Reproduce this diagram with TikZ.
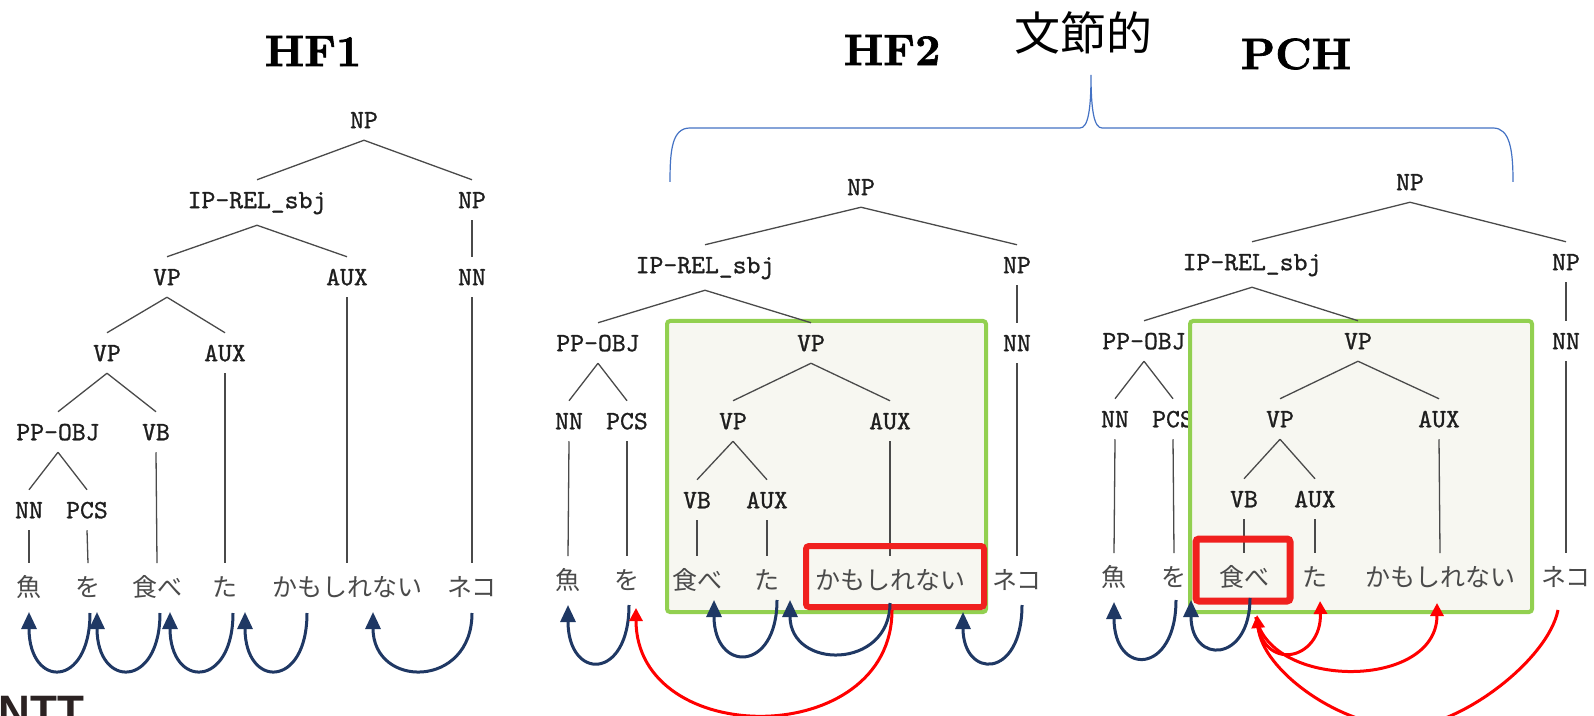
\documentclass[tikz,border=0pt]{standalone}
\usepackage{fontspec}
\newfontfamily\cjk{Noto Sans CJK JP}
\newfontfamily\logofont{Liberation Sans}
\newfontfamily\treefont{lmmono10-regular.otf}[FakeBold=1]
\newfontfamily\titlefont{lmroman10-bold.otf}[FakeBold=1.5]
\usetikzlibrary{arrows.meta}
\definecolor{darkarc}{HTML}{1F3864}
\definecolor{redarc}{HTML}{FF0000}
\definecolor{boxgreen}{HTML}{92D050}
\definecolor{boxfill}{HTML}{F7F7F1}
\definecolor{boxred}{HTML}{F0201E}
\definecolor{bracecol}{HTML}{4472C4}
\definecolor{treeline}{HTML}{4A4A4A}
\definecolor{treetext}{HTML}{1E1E1E}
\definecolor{wordtext}{HTML}{4A4A4A}
\definecolor{logocol}{HTML}{2B2222}
\tikzset{
  tn/.style={font=\treefont\fontsize{13.2}{14}\selectfont, text=treetext,
    anchor=base, yshift=-4.125pt, inner xsep=1pt, inner ysep=5.8pt,
    text height=8.25pt, text depth=0pt},
  tnd/.style={tn, text depth=2.5pt},
  wd/.style={font=\cjk\fontsize{12.5}{13}\selectfont, text=wordtext,
    anchor=base, yshift=-4.75pt, inner xsep=1pt, inner ysep=7pt,
    text height=9.5pt, text depth=0pt},
  tl/.style={draw=treeline, line width=0.65pt},
  titlet/.style={font=\titlefont\fontsize{22}{22}\selectfont, text=black, inner sep=0pt},
  greenbox/.style={draw=boxgreen, fill=boxfill, line width=2pt, rounded corners=1.5pt},
  redbox/.style={draw=boxred, line width=3pt, rounded corners=1.5pt},
  darc/.style={draw=darkarc, line width=1.5pt, -{Triangle[length=8.5pt,width=7.5pt]}},
  rarc/.style={draw=redarc, line width=1.5pt, -{Triangle[length=6.5pt,width=6.5pt]}},
  rline/.style={draw=redarc, line width=1.5pt},
}
\begin{document}
\begin{tikzpicture}[x=0.5pt,y=-0.5pt]
\useasboundingbox (0,0) rectangle (1594,716);
\fill[white] (0,0) rectangle (1594,716);

% ---------- titles ----------
\node[titlet] (t1) at (313,51) {HF1};
\node[titlet] (t2) at (892,50) {HF2};
\node[titlet] (t3) at (1296,54) {PCH};
\node[font=\cjk\fontsize{23}{24}\selectfont, inner sep=0pt] (bunsetsu) at (1083,33) {文節的};
\draw[bracecol, line width=0.6pt] (670,182) .. controls (670,150) and (672,128) .. (690,128)
  -- (1080,128) .. controls (1088,128) and (1091,110) .. (1091,75)
  .. controls (1091,110) and (1094,128) .. (1102,128) -- (1493,128)
  .. controls (1510,128) and (1513,150) .. (1513,182);

% ---------- logo (cut off at the lower edge) ----------
\node[anchor=base west, inner sep=0pt, text=logocol,
  font=\logofont\bfseries\fontsize{22}{22}\selectfont] (logo) at (-2,726) {NTT};

% ================= HF1 =================
\node[tn]  (np1)   at (364,120) {NP};
\node[tnd] (ip1)   at (257,200) {IP-REL\_sbj};
\node[tn]  (npr1)  at (472,200) {NP};
\node[tn]  (vp1)   at (167,277) {VP};
\node[tn]  (aux1)  at (347,277) {AUX};
\node[tn]  (nnr1)  at (472,277) {NN};
\node[tn]  (vpb1)  at (107,353) {VP};
\node[tn]  (auxb1) at (225,353) {AUX};
\node[tn]  (pp1)   at (58,432)  {PP-OBJ};
\node[tn]  (vb1)   at (156,432) {VB};
\node[tn]  (nn1)   at (29,510)  {NN};
\node[tn]  (pcs1)  at (87,510)  {PCS};
\node[wd] (w11) at (29,587)  {魚};
\node[wd] (w12) at (88,587)  {を};
\node[wd] (w13) at (157,587) {食べ};
\node[wd] (w14) at (225,587) {た};
\node[wd] (w15) at (347,587) {かもしれない};
\node[wd] (w16) at (472,587) {ネコ};
\draw[tl] (np1.south) -- (ip1.north);
\draw[tl] (np1.south) -- (npr1.north);
\draw[tl] (ip1.south) -- (vp1.north);
\draw[tl] (ip1.south) -- (aux1.north);
\draw[tl] (npr1.south) -- (nnr1.north);
\draw[tl] (vp1.south) -- (vpb1.north);
\draw[tl] (vp1.south) -- (auxb1.north);
\draw[tl] (vpb1.south) -- (pp1.north);
\draw[tl] (vpb1.south) -- (vb1.north);
\draw[tl] (pp1.south) -- (nn1.north);
\draw[tl] (pp1.south) -- (pcs1.north);
\draw[tl] (nn1.south) -- (w11.north);
\draw[tl] (pcs1.south) -- (w12.north);
\draw[tl] (vb1.south) -- (w13.north);
\draw[tl] (auxb1.south) -- (w14.north);
\draw[tl] (aux1.south) -- (w15.north);
\draw[tl] (nnr1.south) -- (w16.north);
% arcs HF1
\coordinate (a1s) at (90,613);  \coordinate (a1t) at (29,612);
\coordinate (b1s) at (160,613); \coordinate (b1t) at (97,612);
\coordinate (c1s) at (233,613); \coordinate (c1t) at (170,612);
\coordinate (d1s) at (307,613); \coordinate (d1t) at (245,612);
\coordinate (e1s) at (472,613); \coordinate (e1t) at (373,612);
\draw[darc] (a1s) .. controls +(0,76) and +(0,77) .. (a1t);
\draw[darc] (b1s) .. controls +(0,76) and +(0,77) .. (b1t);
\draw[darc] (c1s) .. controls +(0,76) and +(0,77) .. (c1t);
\draw[darc] (d1s) .. controls +(0,76) and +(0,77) .. (d1t);
\draw[darc] (e1s) .. controls +(0,76) and +(0,77) .. (e1t);

% ================= HF2 =================
\node[tn]  (np2)   at (861,187)  {NP};
\node[tnd] (ip2)   at (705,265)  {IP-REL\_sbj};
\node[tn]  (npr2)  at (1017,265) {NP};
\node[tn]  (pp2)   at (598,343)  {PP-OBJ};
\node[tn]  (nnr2)  at (1017,343) {NN};
\node[tn]  (nn2)   at (569,421)  {NN};
\node[tn]  (pcs2)  at (627,421)  {PCS};
\node[wd] (w21) at (568,580)  {魚};
\node[wd] (w22) at (627,580)  {を};
\node[wd] (w26) at (1017,580) {ネコ};
\draw[tl] (np2.south) -- (ip2.north);
\draw[tl] (np2.south) -- (npr2.north);
\draw[tl] (npr2.south) -- (nnr2.north);
\draw[tl] (ip2.south) -- (pp2.north);
\draw[tl] (pp2.south) -- (nn2.north);
\draw[tl] (pp2.south) -- (pcs2.north);
\draw[tl] (nn2.south) -- (w21.north);
\draw[tl] (pcs2.south) -- (w22.north);
\draw[tl] (nnr2.south) -- (w26.north);
\draw[greenbox] (667,321) rectangle (986,612);
\node[tn]  (vp2)   at (811,343)  {VP};
\node[tn]  (vpb2)  at (733,421)  {VP};
\node[tn]  (aux2)  at (890,421)  {AUX};
\node[tn]  (vb2)   at (697,500)  {VB};
\node[tn]  (auxb2) at (767,500)  {AUX};
\node[wd] (w23) at (697,580)  {食べ};
\node[wd] (w24) at (767,580)  {た};
\node[wd] (w25) at (890,580)  {かもしれない};
\draw[tl] (ip2.south) -- (vp2.north);
\draw[tl] (vp2.south) -- (vpb2.north);
\draw[tl] (vp2.south) -- (aux2.north);
\draw[tl] (vpb2.south) -- (vb2.north);
\draw[tl] (vpb2.south) -- (auxb2.north);
\draw[tl] (vb2.south) -- (w23.north);
\draw[tl] (auxb2.south) -- (w24.north);
\draw[tl] (aux2.south) -- (w25.north);
\draw[redbox] (806,546) rectangle (984,607);
% arcs HF2
\coordinate (a2s) at (629,605);  \coordinate (a2t) at (568,605);
\coordinate (b2s) at (777,600);  \coordinate (b2t) at (714,600);
\coordinate (c2s) at (890,603);  \coordinate (c2t) at (790,600);
\coordinate (d2s) at (1022,605); \coordinate (d2t) at (963,612);
\coordinate (r2s) at (892,610);  \coordinate (r2t) at (636,608);
\draw[darc] (a2s) .. controls +(0,76) and +(0,76) .. (a2t);
\draw[darc] (b2s) .. controls +(0,73) and +(0,73) .. (b2t);
\draw[darc] (c2s) .. controls +(0,67) and +(0,70) .. (c2t);
\draw[darc] (d2s) .. controls +(0,75) and +(0,67) .. (d2t);
\draw[rarc] (r2s) .. controls +(0,140) and +(0,142) .. (r2t);

% ================= PCH =================
\node[tn]  (np3)   at (1410,182) {NP};
\node[tnd] (ip3)   at (1252,262) {IP-REL\_sbj};
\node[tn]  (npr3)  at (1566,262) {NP};
\node[tn]  (pp3)   at (1144,341) {PP-OBJ};
\node[tn]  (nnr3)  at (1566,341) {NN};
\node[tn]  (nn3)   at (1115,419) {NN};
\node[tn]  (pcs3)  at (1173,419) {PCS};
\node[wd] (w31) at (1114,577) {魚};
\node[wd] (w32) at (1174,577) {を};
\node[wd] (w36) at (1566,577) {ネコ};
\draw[tl] (np3.south) -- (ip3.north);
\draw[tl] (np3.south) -- (npr3.north);
\draw[tl] (npr3.south) -- (nnr3.north);
\draw[tl] (ip3.south) -- (pp3.north);
\draw[tl] (pp3.south) -- (nn3.north);
\draw[tl] (pp3.south) -- (pcs3.north);
\draw[tl] (nn3.south) -- (w31.north);
\draw[tl] (pcs3.south) -- (w32.north);
\draw[tl] (nnr3.south) -- (w36.north);
\draw[greenbox] (1190,321) rectangle (1532,612);
\node[tn]  (vp3)   at (1358,341) {VP};
\node[tn]  (vpb3)  at (1280,419) {VP};
\node[tn]  (aux3)  at (1439,419) {AUX};
\node[tn]  (vb3)   at (1244,499) {VB};
\node[tn]  (auxb3) at (1315,499) {AUX};
\node[wd] (w33) at (1244,577) {食べ};
\node[wd] (w34) at (1315,577) {た};
\node[wd] (w35) at (1440,577) {かもしれない};
\draw[tl] (ip3.south) -- (vp3.north);
\draw[tl] (vp3.south) -- (vpb3.north);
\draw[tl] (vp3.south) -- (aux3.north);
\draw[tl] (vpb3.south) -- (vb3.north);
\draw[tl] (vpb3.south) -- (auxb3.north);
\draw[tl] (vb3.south) -- (w33.north);
\draw[tl] (auxb3.south) -- (w34.north);
\draw[tl] (aux3.south) -- (w35.north);
\draw[redbox, line width=3.5pt] (1196,539) rectangle (1290,601);
% arcs PCH
\coordinate (a3s) at (1176,600); \coordinate (a3t) at (1114,602);
\coordinate (b3s) at (1250,598); \coordinate (b3t) at (1191,600);
\coordinate (h3s) at (1256,617); \coordinate (h3t) at (1257,615);
\coordinate (c3t) at (1320,601);
\coordinate (d3t) at (1437,603);
\coordinate (e3s) at (1558,610); \coordinate (e3m) at (1405,727);
\draw[darc] (a3s) .. controls +(0,75) and +(0,75) .. (a3t);
\draw[darc] (b3s) .. controls +(0,65) and +(0,65) .. (b3t);
\draw[rarc] (h3s) .. controls +(6,58) and +(2,59) .. (c3t);
\draw[rarc] (h3s) .. controls +(14,73) and +(0,87) .. (d3t);
\draw[rline] (e3s) .. controls +(-10,50) and +(55,0) .. (e3m);
\draw[rarc] (e3m) .. controls +(-65,0) and +(5,55) .. (h3t);
\end{tikzpicture}
\end{document}
